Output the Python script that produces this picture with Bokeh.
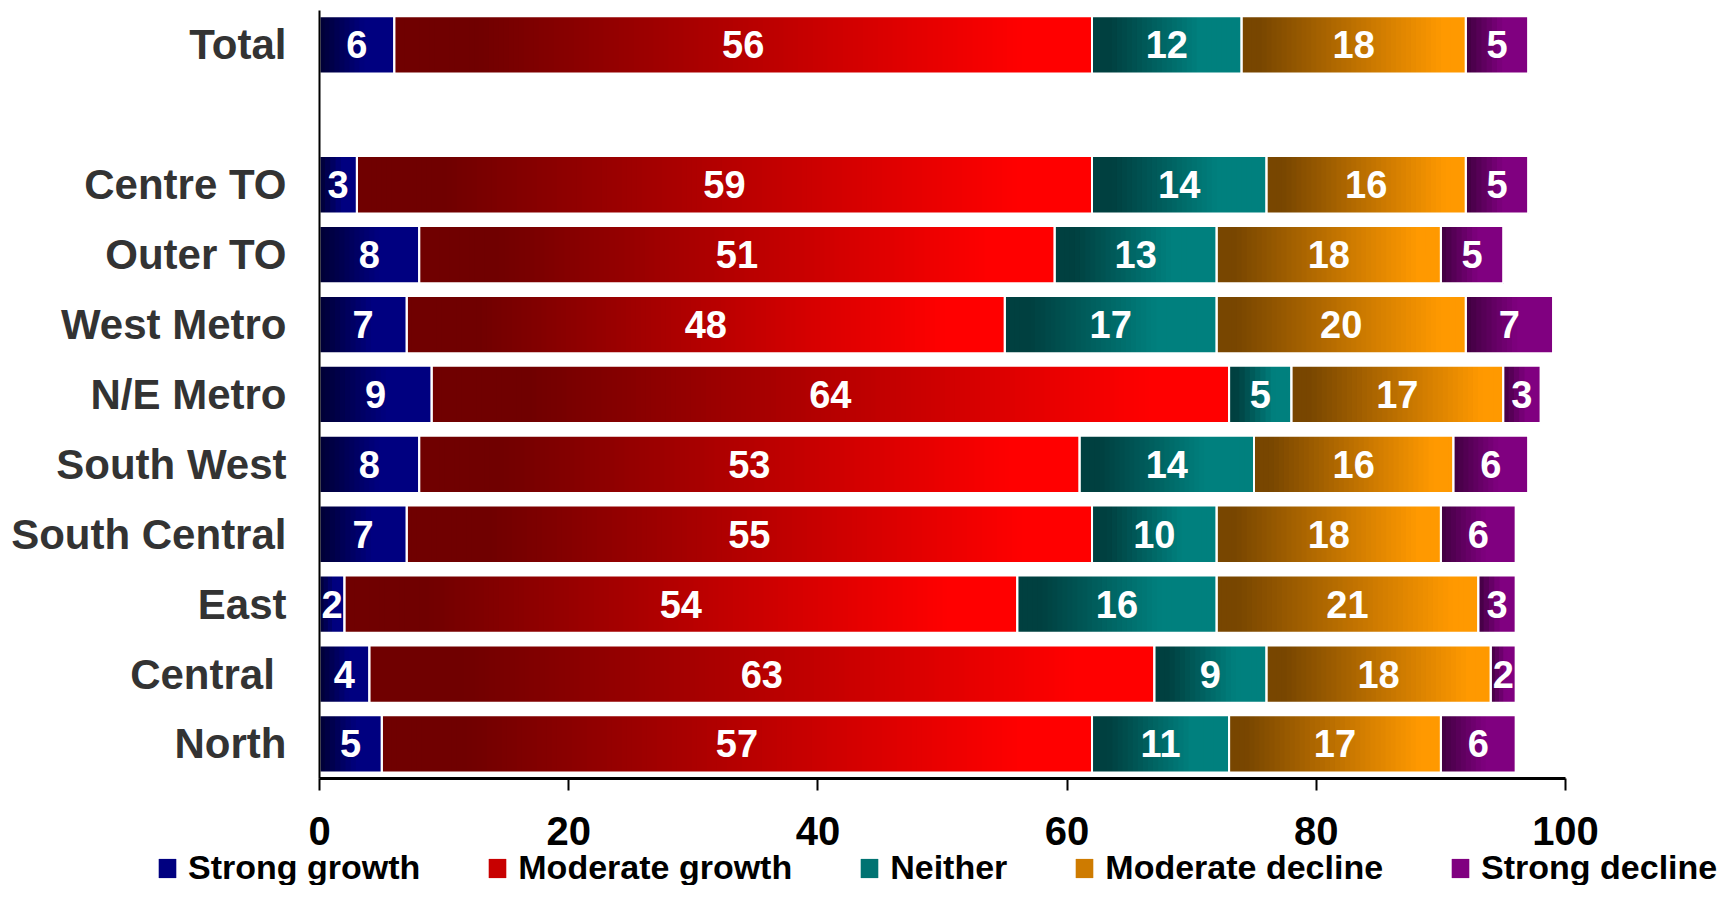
from bokeh.plotting import figure
from bokeh.models import ColumnDataSource, Range1d, FixedTicker, Legend, LegendItem
from bokeh.core.properties import value
from bokeh.embed import file_html
from bokeh.resources import INLINE

# ---------------- data ----------------
regions = ["North", "Central ", "East", "South Central", "South West",
           "N/E Metro", "West Metro", "Outer TO", "Centre TO", "Total"]
row_pos = [0, 1, 2, 3, 4, 5, 6, 7, 8, 10]

series = ["Strong growth", "Moderate growth", "Neither", "Moderate decline", "Strong decline"]
strong_growth   = [5, 4, 2, 7, 8, 9, 7, 8, 3, 6]
moderate_growth = [57, 63, 54, 55, 53, 64, 48, 51, 59, 56]
neither         = [11, 9, 16, 10, 14, 5, 17, 13, 14, 12]
moderate_decline = [17, 18, 21, 18, 16, 17, 20, 18, 16, 18]
strong_decline  = [6, 2, 3, 6, 6, 3, 7, 5, 5, 5]
x_ticks = [0, 20, 40, 60, 80, 100]

# ---------------- layout / styles ----------------
W, H = 1720, 885
PLOT_LEFT, PLOT_RIGHT = 319, 1565      # pixel position of x = 0 and x = 100
ROW_PX = 69.9                          # pixel height of one row slot
TOP_PAD = 9.5                          # pixels above the top slot
X_MIN, X_MAX = 0, 100
Y_LO, Y_HI = -0.5, 10.5

px_per_x = (PLOT_RIGHT - PLOT_LEFT) / (X_MAX - X_MIN)
x_start = X_MIN - PLOT_LEFT / px_per_x
x_end = X_MAX + (W - PLOT_RIGHT) / px_per_x
y_end = Y_HI + TOP_PAD / ROW_PX
y_start = y_end - H / ROW_PX

dark_cols = [(0x00, 0x00, 0x34), (0x70, 0x00, 0x00), (0x00, 0x40, 0x40), (0x78, 0x46, 0x00), (0x40, 0x00, 0x40)]
bright_cols = [(0x00, 0x00, 0x80), (0xFF, 0x00, 0x00), (0x00, 0x80, 0x7E), (0xFF, 0x99, 0x00), (0x80, 0x00, 0x80)]
ramps = [(0.0, 0.6), (0.12, 0.9), (0.12, 0.72), (0.08, 0.9), (0.0, 0.6)]
FONT = "Liberation Sans"

def grad_color(k, t):
    a, b = ramps[k]
    if t <= a:
        f = 0.0
    elif t >= b:
        f = 1.0
    else:
        f = (t - a) / (b - a)
    d, br = dark_cols[k], bright_cols[k]
    c = [int(round(d[j] + (br[j] - d[j]) * f)) for j in range(3)]
    return "#%02x%02x%02x" % tuple(c)

all_series = [strong_growth, moderate_growth, neither, moderate_decline, strong_decline]

seg = dict(y=[], left=[], right=[])
lab = dict(x=[], y=[], text=[])
sl = dict(y=[], left=[], right=[], color=[])
per_series = [dict(y=[], left=[], right=[]) for _ in series]
for r, y in enumerate(row_pos):
    cum = 0.0
    for k, s in enumerate(all_series):
        v = s[r]
        l, rr = cum, cum + v
        seg["y"].append(y); seg["left"].append(l); seg["right"].append(rr)
        per_series[k]["y"].append(y); per_series[k]["left"].append(l); per_series[k]["right"].append(rr)
        lab["x"].append((l + rr) / 2); lab["y"].append(y); lab["text"].append(str(v))
        n = max(6, int(v * 2.5))
        for i in range(n):
            t = (i + 0.5) / n
            sl["y"].append(y)
            sl["left"].append(l + v * i / n)
            sl["right"].append(rr)
            sl["color"].append(grad_color(k, t))
        cum = rr

p = figure(width=W, height=H, output_backend="svg", toolbar_location=None,
           x_range=Range1d(x_start, x_end), y_range=Range1d(y_start, y_end),
           min_border_left=0, min_border_right=0, min_border_top=0, min_border_bottom=0)
p.outline_line_color = None
p.xgrid.visible = False
p.ygrid.visible = False

# flat base bars per series (covered by the gradient; used by the legend)
items = []
for k, name in enumerate(series):
    r = p.hbar(y="y", left="left", right="right", height=0.82,
               source=ColumnDataSource(per_series[k]),
               fill_color=grad_color(k, 0.6), line_color=None)
    items.append(LegendItem(label=name, renderers=[r]))

# gradient slices
p.hbar(y="y", left="left", right="right", height=0.82, source=ColumnDataSource(sl),
       fill_color="color", line_color=None)
p.hbar(y="y", left="left", right="right", height=0.82, source=ColumnDataSource(seg),
       fill_alpha=0, line_color="white", line_width=2)
p.text(x="x", y="y", text="text", source=ColumnDataSource(lab),
       text_color="white", text_align="center", text_baseline="middle",
       text_font=value(FONT), text_font_style="bold", text_font_size="38px")

xa = p.xaxis[0]
xa.fixed_location = Y_LO
xa.bounds = (X_MIN, X_MAX)
xa.ticker = FixedTicker(ticks=x_ticks)
xa.minor_tick_line_color = None
xa.major_tick_in = 0
xa.major_tick_out = 12
xa.major_tick_line_width = 2
xa.major_tick_line_color = "black"
xa.axis_line_width = 3
xa.axis_line_color = "black"
xa.major_label_text_font = FONT
xa.major_label_text_font_style = "bold"
xa.major_label_text_font_size = "40px"
xa.major_label_text_color = "black"
xa.major_label_standoff = 26

ya = p.yaxis[0]
ya.fixed_location = X_MIN
ya.bounds = (Y_LO, Y_HI)
ya.ticker = FixedTicker(ticks=row_pos)
ya.major_label_overrides = {y: name for y, name in zip(row_pos, regions)}
ya.major_tick_line_color = None
ya.minor_tick_line_color = None
ya.axis_line_width = 2
ya.axis_line_color = "black"
ya.major_label_text_font = FONT
ya.major_label_text_font_style = "bold"
ya.major_label_text_font_size = "42px"
ya.major_label_text_color = "#333333"
ya.major_label_standoff = 27

leg = Legend(items=items, orientation="horizontal", location=(156, -2),
             padding=0, margin=0, spacing=66, label_standoff=10,
             glyph_width=22, glyph_height=24, label_height=30,
             label_text_font=FONT, label_text_font_style="bold",
             label_text_font_size="34px", label_text_color="black",
             border_line_alpha=0, background_fill_alpha=0)
p.add_layout(leg, "center")

open("out.html", "w").write(file_html(p, INLINE))
